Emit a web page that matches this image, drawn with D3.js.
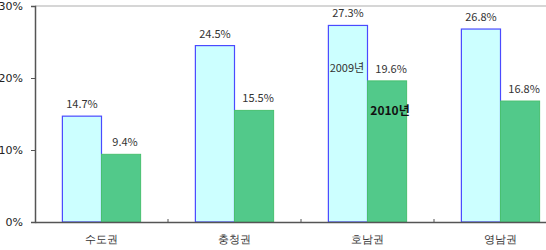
<!DOCTYPE html>
<html>
<head>
<meta charset="utf-8">
<script src="https://cdn.jsdelivr.net/npm/d3@7"></script>
<style>
  body { margin: 0; background: #fff; }
  svg { display: block; font-family: "Noto Sans CJK KR", "DejaVu Sans", sans-serif; }
</style>
</head>
<body>
<div id="chart"></div>
<script>
// data
const regions = ["수도권", "충청권", "호남권", "영남권"];
const values2009 = [14.7, 24.5, 27.3, 26.8];
const values2010 = [9.4, 15.5, 19.6, 16.8];
const yTicks = [0, 10, 20, 30];

const W = 546, H = 250;
const margin = { top: 6, left: 35, bottom: 28 };
const plotRight = 567; // the original plot runs past the crop

const svg = d3.select("#chart")
  .append("svg")
  .attr("width", W)
  .attr("height", H);

const x = d3.scaleBand()
  .domain(regions)
  .range([margin.left, plotRight])
  .paddingInner(0)
  .paddingOuter(0);

const inner = d3.scaleBand()
  .domain(["2009", "2010"])
  .range([0, x.bandwidth()])
  .paddingOuter(0.7)
  .paddingInner(0);

const y = d3.scaleLinear()
  .domain([0, 30])
  .range([H - margin.bottom, margin.top]);

// top border line
svg.append("line")
  .attr("x1", margin.left).attr("x2", W)
  .attr("y1", y(30)).attr("y2", y(30))
  .attr("stroke", "#c8c8c8")
  .attr("stroke-width", 1.5);

// bars
const g = svg.append("g");
regions.forEach((r, i) => {
  g.append("rect")
    .attr("x", x(r) + inner("2009"))
    .attr("y", y(values2009[i]))
    .attr("width", inner.bandwidth())
    .attr("height", y(0) - y(values2009[i]))
    .attr("fill", "#ccffff")
    .attr("stroke", "#4a4aff")
    .attr("stroke-width", 1.2);
  g.append("rect")
    .attr("x", x(r) + inner("2010"))
    .attr("y", y(values2010[i]))
    .attr("width", inner.bandwidth())
    .attr("height", y(0) - y(values2010[i]))
    .attr("fill", "#52c98a")
    .attr("stroke", "#48c070")
    .attr("stroke-width", 1);

  // value labels
  g.append("text")
    .attr("x", x(r) + inner("2009") + inner.bandwidth() / 2)
    .attr("y", y(values2009[i]) - 8)
    .attr("text-anchor", "middle")
    .style("font-size", "11px")
    .style("fill", "#333")
    .text(values2009[i].toFixed(1) + "%");
  g.append("text")
    .attr("x", x(r) + inner("2010") + inner.bandwidth() / 2 + 4)
    .attr("y", y(values2010[i]) - 8)
    .attr("text-anchor", "middle")
    .style("font-size", "11px")
    .style("fill", "#333")
    .text(values2010[i].toFixed(1) + "%");
});

// legend words sitting on the 호남권 bars
const lg = x("호남권");
svg.append("text")
  .attr("x", lg + inner("2009") + inner.bandwidth() / 2 - 1)
  .attr("y", y(20.8))
  .attr("text-anchor", "middle")
  .style("font-size", "11px")
  .style("fill", "#333")
  .text("2009년");
svg.append("text")
  .attr("x", lg + inner("2010") + inner.bandwidth() / 2 + 3)
  .attr("y", y(14.9))
  .attr("text-anchor", "middle")
  .style("font-size", "12px")
  .style("font-weight", "bold")
  .style("fill", "#111")
  .text("2010년");

// y axis
const yAxis = svg.append("g")
  .attr("transform", `translate(${margin.left},0)`)
  .call(d3.axisLeft(y).tickValues(yTicks).tickSize(4).tickPadding(8).tickFormat(d => d + "%"));
yAxis.select(".domain").attr("stroke", "#555").attr("stroke-width", 1.5);
yAxis.selectAll(".tick line").attr("stroke", "#555");
yAxis.selectAll("text")
  .style("font-size", "11px")
  .style("font-family", "DejaVu Sans, sans-serif")
  .style("fill", "#222");

// x axis
const xAxis = svg.append("g")
  .attr("transform", `translate(0,${y(0)})`)
  .call(d3.axisBottom(x).tickSize(0).tickPadding(13));
xAxis.select(".domain").attr("stroke", "#555").attr("stroke-width", 1.5);
xAxis.selectAll("text")
  .style("font-size", "11px")
  .style("fill", "#333");

// small separators between categories
svg.append("g")
  .selectAll("line")
  .data(regions.slice(1))
  .join("line")
  .attr("x1", d => x(d)).attr("x2", d => x(d))
  .attr("y1", y(0) - 3).attr("y2", y(0))
  .attr("stroke", "#555");
</script>
</body>
</html>
